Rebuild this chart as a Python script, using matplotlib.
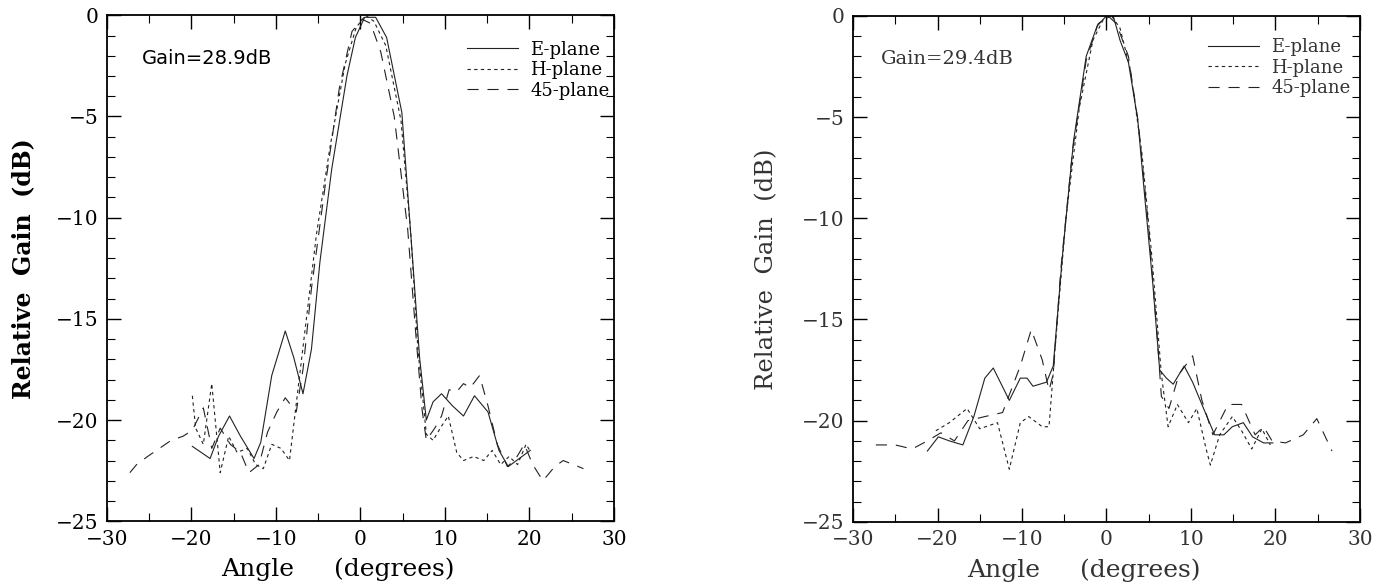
import numpy as np
import matplotlib.pyplot as plt
from matplotlib.ticker import MultipleLocator

# ---- data (angle in deg, relative gain in dB) ----
# left panel, gain 28.9 dB
l_e_ang = [-19.9, -17.8, -16.8, -15.5, -14.2, -12.6, -11.8, -10.5, -8.9, -7.9, -6.8, -5.8, -4.8,
           -3.4, -1.6, -0.6, 0.5, 1.8, 3.1, 4.9, 6.2, 7.0, 7.8, 8.6, 9.6, 10.9, 12.2, 13.5,
           15.1, 16.4, 17.5, 18.8, 20.1]
l_e_db = [-21.3, -21.9, -20.8, -19.8, -20.8, -21.9, -21.1, -17.8, -15.6, -16.9, -18.7, -16.5, -12.2,
          -7.6, -3.0, -1.1, -0.1, -0.1, -1.1, -4.8, -12.2, -16.9, -20.0, -19.1, -18.7, -19.3, -19.8, -18.8,
          -19.6, -21.5, -22.3, -21.9, -21.5]
l_h_ang = [-19.9, -19.5, -18.6, -17.6, -16.6, -15.6, -14.6, -13.4, -12.4, -11.5, -10.5, -9.4, -8.4,
           -7.4, -6.4, -5.2, -3.6, -1.8, -0.5, 0.6, 1.6, 3.0, 4.8, 6.0, 6.8, 7.4, 7.8, 8.6, 9.6,
           10.4, 11.4, 12.2, 13.4, 14.6, 15.6, 16.6, 17.6, 18.6, 19.6, 20.2]
l_h_db = [-18.8, -20.4, -21.2, -18.2, -22.6, -20.8, -21.6, -21.4, -22.2, -22.4, -21.2, -21.4, -22.0,
          -18.5, -15.0, -10.8, -6.5, -2.4, -0.6, 0.0, -0.3, -1.5, -5.2, -11.0, -16.5, -19.0, -20.7, -21.0, -20.3,
          -19.8, -21.6, -22.0, -21.8, -22.0, -21.5, -22.2, -21.8, -22.2, -21.2, -21.6]
l_45_ang = [-27.3, -26.5, -25.2, -23.8, -22.4, -21.0, -19.9, -18.6, -17.6, -16.6, -15.4, -14.2,
            -13.2, -12.0, -11.0, -9.9, -8.9, -7.6, -6.8, -5.8, -4.2, -2.5, -1.0, 0.2, 1.2, 2.4,
            4.0, 5.6, 6.6, 7.3, 7.8, 8.8, 9.6, 10.5, 11.4, 12.2, 13.0, 14.1, 15.1, 16.2, 17.4,
            18.4, 19.4, 20.4, 21.6, 23.0, 24.0, 25.2, 26.4]
l_45_db = [-22.6, -22.2, -21.8, -21.4, -21.0, -20.8, -20.5, -19.4, -21.4, -20.4, -21.2, -21.6,
           -22.6, -22.2, -20.6, -19.6, -18.9, -19.6, -17.5, -13.5, -8.5, -3.6, -0.8, -0.2, -0.4, -1.8,
           -5.0, -10.6, -16.0, -19.5, -21.0, -20.4, -19.8, -18.5, -18.6, -18.2, -18.4, -17.8, -19.3, -21.2, -22.3,
           -21.9, -21.2, -22.2, -23.0, -22.3, -22.0, -22.2, -22.4]

# right panel, gain 29.4 dB
r_e_ang = [-21.2, -19.9, -18.6, -17.0, -15.7, -14.4, -13.4, -11.5, -10.2, -9.4, -8.7, -7.1, -6.3,
           -5.2, -3.9, -2.4, -1.1, 0.0, 0.8, 1.6, 2.6, 3.7, 4.5, 5.5, 6.3, 7.1, 7.9, 9.2, 10.2,
           11.5, 12.8, 13.9, 14.9, 16.2, 17.3, 18.6, 19.7]
r_e_db = [-21.5, -20.8, -21.0, -21.2, -19.8, -17.9, -17.4, -19.0, -17.9, -17.9, -18.3, -18.1, -17.3,
          -11.8, -6.2, -2.0, -0.5, 0.0, 0.0, -1.2, -2.3, -5.1, -8.8, -13.3, -17.5, -17.9, -18.2, -17.3, -18.1,
          -19.4, -20.7, -20.7, -20.3, -20.1, -20.8, -21.1, -21.1]
r_h_ang = [-20.2, -18.6, -16.5, -15.0, -12.9, -11.5, -10.2, -9.2, -7.6, -6.8, -6.0, -4.8, -3.2,
           -1.6, -0.4, 0.6, 1.6, 2.8, 4.2, 5.4, 6.5, 7.3, 8.4, 9.7, 10.7, 11.8, 12.3, 13.4, 14.9,
           16.0, 17.2, 18.4, 19.4]
r_h_db = [-20.5, -20.1, -19.4, -20.4, -20.1, -22.4, -20.1, -19.8, -20.3, -20.3, -16.0, -10.0, -4.5,
          -1.2, -0.2, 0.0, -0.6, -2.6, -6.8, -12.0, -17.7, -20.3, -19.2, -20.1, -19.4, -21.4, -22.2, -20.7, -19.8,
          -20.5, -21.4, -20.4, -21.2]
r_45_ang = [-27.3, -25.0, -23.0, -21.2, -19.6, -18.0, -16.4, -14.4, -12.3, -10.2, -8.9, -7.6, -6.8,
            -6.3, -5.4, -4.0, -2.4, -1.0, 0.2, 1.2, 2.6, 3.8, 5.0, 6.0, 6.5, 7.4, 8.6, 10.2,
            11.3, 12.6, 14.4, 16.0, 17.6, 18.6, 19.6, 21.2, 23.3, 24.9, 26.7]
r_45_db = [-21.2, -21.2, -21.4, -21.0, -20.6, -21.0, -20.0, -19.8, -19.6, -17.3, -15.5, -17.0, -18.5,
           -17.7, -12.5, -6.6, -2.2, -0.4, 0.0, -0.4, -2.0, -5.4, -10.5, -15.8, -18.8, -19.4, -17.7, -16.8,
           -19.0, -20.7, -19.2, -19.2, -20.7, -20.3, -21.0, -21.1, -20.7, -19.9, -21.5]

legend_names = ['E-plane', 'H-plane', '45-plane']
gain_labels = ['Gain=28.9dB', 'Gain=29.4dB']

plt.rcParams['font.family'] = ['DejaVu Serif']

fig = plt.figure(figsize=(13.81, 5.87), dpi=100)
ax1 = fig.add_axes([0.0775, 0.112, 0.367, 0.862])
ax2 = fig.add_axes([0.6177, 0.111, 0.367, 0.862])

# axes, curves, gain text (x, y, family), ylabel (weight, size, x), legend anchor, ink colour
panels = [
    (ax1, (l_e_ang, l_e_db), (l_h_ang, l_h_db), (l_45_ang, l_45_db),
     gain_labels[0], (0.069, 0.915, 'DejaVu Sans'), ('bold', 17, -0.142), (1.006, 0.964), 'black'),
    (ax2, (r_e_ang, r_e_db), (r_h_ang, r_h_db), (r_45_ang, r_45_db),
     gain_labels[1], (0.055, 0.915, 'DejaVu Serif'), ('normal', 17.5, -0.148), (0.996, 0.970), '#333333'),
]

for ax, e, h, d45, glabel, gpos, ylab, lanchor, ink in panels:
    ax.plot(e[0], e[1], color='#222222', lw=0.8, ls='-', label=legend_names[0])
    ax.plot(h[0], h[1], color='#222222', lw=0.8, ls=(0, (3, 3)), label=legend_names[1])
    ax.plot(d45[0], d45[1], color='#222222', lw=0.8, ls=(0, (10, 8)), label=legend_names[2])

    ax.set_xlim(-30, 30)
    ax.set_ylim(-25, 0)
    ax.xaxis.set_major_locator(MultipleLocator(10))
    ax.xaxis.set_minor_locator(MultipleLocator(5))
    ax.yaxis.set_major_locator(MultipleLocator(5))
    ax.yaxis.set_minor_locator(MultipleLocator(1))
    ax.tick_params(which='both', direction='in', top=True, right=True, labelsize=14.5,
                   pad=6, labelcolor=ink)
    ax.tick_params(which='major', length=10, width=1)
    ax.tick_params(which='minor', length=6, width=0.8)
    for s in ax.spines.values():
        s.set_linewidth(1.3)

    ax.set_xlabel('Angle     (degrees)', fontsize=18, color=ink)
    ax.xaxis.set_label_coords(0.456, -0.072)
    ax.set_ylabel('Relative  Gain  (dB)', fontsize=ylab[1], fontweight=ylab[0], color=ink)
    ax.yaxis.set_label_coords(ylab[2], 0.5)
    ax.text(gpos[0], gpos[1], glabel, transform=ax.transAxes, fontsize=14,
            family=gpos[2], va='center', color=ink)
    ax.legend(loc='upper right', bbox_to_anchor=lanchor, frameon=False, fontsize=13,
              handlelength=2.8, handletextpad=0.7, labelspacing=0.14, borderaxespad=0,
              labelcolor=ink)

fig.savefig('out.png', dpi=100)
